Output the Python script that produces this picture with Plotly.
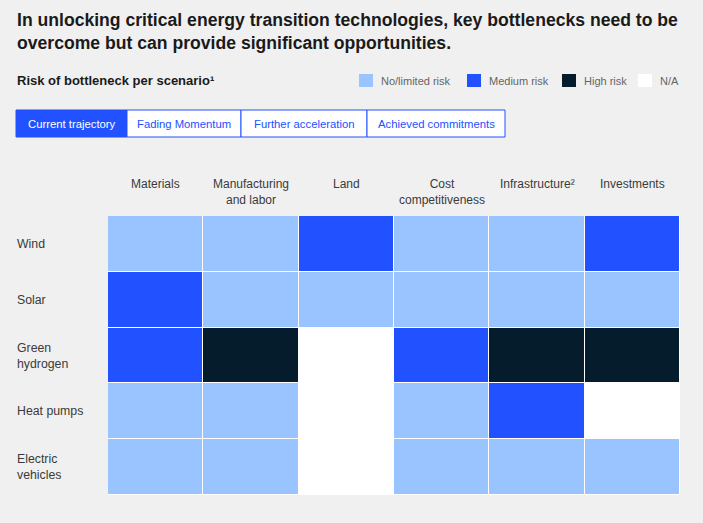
import plotly.graph_objects as go

# ---- data ----
title_lines = ["In unlocking critical energy transition technologies, key bottlenecks need to be",
               "overcome but can provide significant opportunities."]
subtitle = "Risk of bottleneck per scenario\u00b9"
columns = ["Materials", "Manufacturing<br>and labor", "Land", "Cost<br>competitiveness",
           "Infrastructure\u00b2", "Investments"]
rows = ["Wind", "Solar", "Green<br>hydrogen", "Heat pumps", "Electric<br>vehicles"]
# 0 = No/limited risk, 1 = Medium risk, 2 = High risk, 3 = N/A
risk = [
    [0, 0, 1, 0, 0, 1],
    [1, 0, 0, 0, 0, 0],
    [1, 2, 3, 1, 2, 2],
    [0, 0, 3, 0, 1, 3],
    [0, 0, 3, 0, 0, 0],
]
legend_labels = ["No/limited risk", "Medium risk", "High risk", "N/A"]
scenarios = ["Current trajectory", "Fading Momentum", "Further acceleration", "Achieved commitments"]

# ---- styles ----
W, H = 703, 523
BG = "#f0f0f0"
colors = ["#99c4ff", "#2251ff", "#051c2c", "#ffffff"]
FONT = "Liberation Sans"

def px(x):
    return x / W

def py(y):
    return 1 - y / H

cs = []
n = len(colors)
for i, c in enumerate(colors):
    cs.append([i / n, c])
    cs.append([(i + 1) / n, c])

fig = go.Figure(go.Heatmap(
    z=risk, x=list(range(len(columns))), y=list(range(len(rows))),
    colorscale=cs, zmin=-0.5, zmax=3.5, showscale=False,
    xgap=1, ygap=1, hoverinfo="skip",
))

annotations = []
shapes = []
# title
for i, t in enumerate(title_lines):
    annotations.append(dict(text="<b>" + t + "</b>", x=px(15), y=py(20 + 23 * i), xref="paper", yref="paper",
                            xanchor="left", yanchor="middle", showarrow=False,
                            font=dict(family=FONT, size=17.6, color="#1a1a1a")))
annotations.append(dict(text="<b>" + subtitle + "</b>", x=px(15), y=py(81), xref="paper", yref="paper",
                        xanchor="left", yanchor="middle", showarrow=False,
                        font=dict(family=FONT, size=13, color="#1a1a1a")))
# legend
leg_sq = [359, 467, 562, 638]
for lbl, c, xs in zip(legend_labels, colors, leg_sq):
    shapes.append(dict(type="rect", xref="paper", yref="paper", x0=px(xs), x1=px(xs + 14),
                       y0=py(87), y1=py(74), fillcolor=c, line=dict(width=0)))
    annotations.append(dict(text=lbl, x=px(xs + 20), y=py(81), xref="paper", yref="paper",
                            xanchor="left", yanchor="middle", showarrow=False,
                            font=dict(family=FONT, size=11, color="#666666")))
# scenario tabs
tab_x = [16, 127, 241, 367, 505]
for i, s in enumerate(scenarios):
    active = i == 0
    shapes.append(dict(type="rect", xref="paper", yref="paper", x0=px(tab_x[i]), x1=px(tab_x[i + 1]),
                       y0=py(137), y1=py(110), fillcolor="#2251ff" if active else "#ffffff",
                       line=dict(color="#2251ff", width=1)))
    annotations.append(dict(text=s, x=px((tab_x[i] + tab_x[i + 1]) / 2), y=py(123.5), xref="paper",
                            yref="paper", xanchor="center", yanchor="middle", showarrow=False,
                            font=dict(family=FONT, size=11.3, color="#ffffff" if active else "#2251ff")))
# column headers
for j, c in enumerate(columns):
    annotations.append(dict(text=c, x=j, y=py(175), xref="x", yref="paper", xanchor="center",
                            yanchor="top", showarrow=False, align="center",
                            font=dict(family=FONT, size=12, color="#3a3a3a")))
# row labels
for i, r in enumerate(rows):
    annotations.append(dict(text=r, x=px(15), y=i, xref="paper", yref="y", xanchor="left",
                            yanchor="middle", showarrow=False, align="left",
                            font=dict(family=FONT, size=12.3, color="#3a3a3a")))

fig.update_layout(
    width=W, height=H, margin=dict(l=0, r=0, t=0, b=0),
    paper_bgcolor=BG, plot_bgcolor="#ffffff",
    xaxis=dict(domain=[px(108), px(680)], showticklabels=False, showgrid=False, zeroline=False,
               range=[-0.5, len(columns) - 0.5], fixedrange=True),
    yaxis=dict(domain=[py(495), py(216)], showticklabels=False, showgrid=False, zeroline=False,
               range=[len(rows) - 0.5, -0.5], fixedrange=True),
    annotations=annotations, shapes=shapes, showlegend=False,
)

fig.write_html("out.html", config={"displayModeBar": False},
               post_script="document.body.style.margin='0';document.body.style.background='#f0f0f0';")
